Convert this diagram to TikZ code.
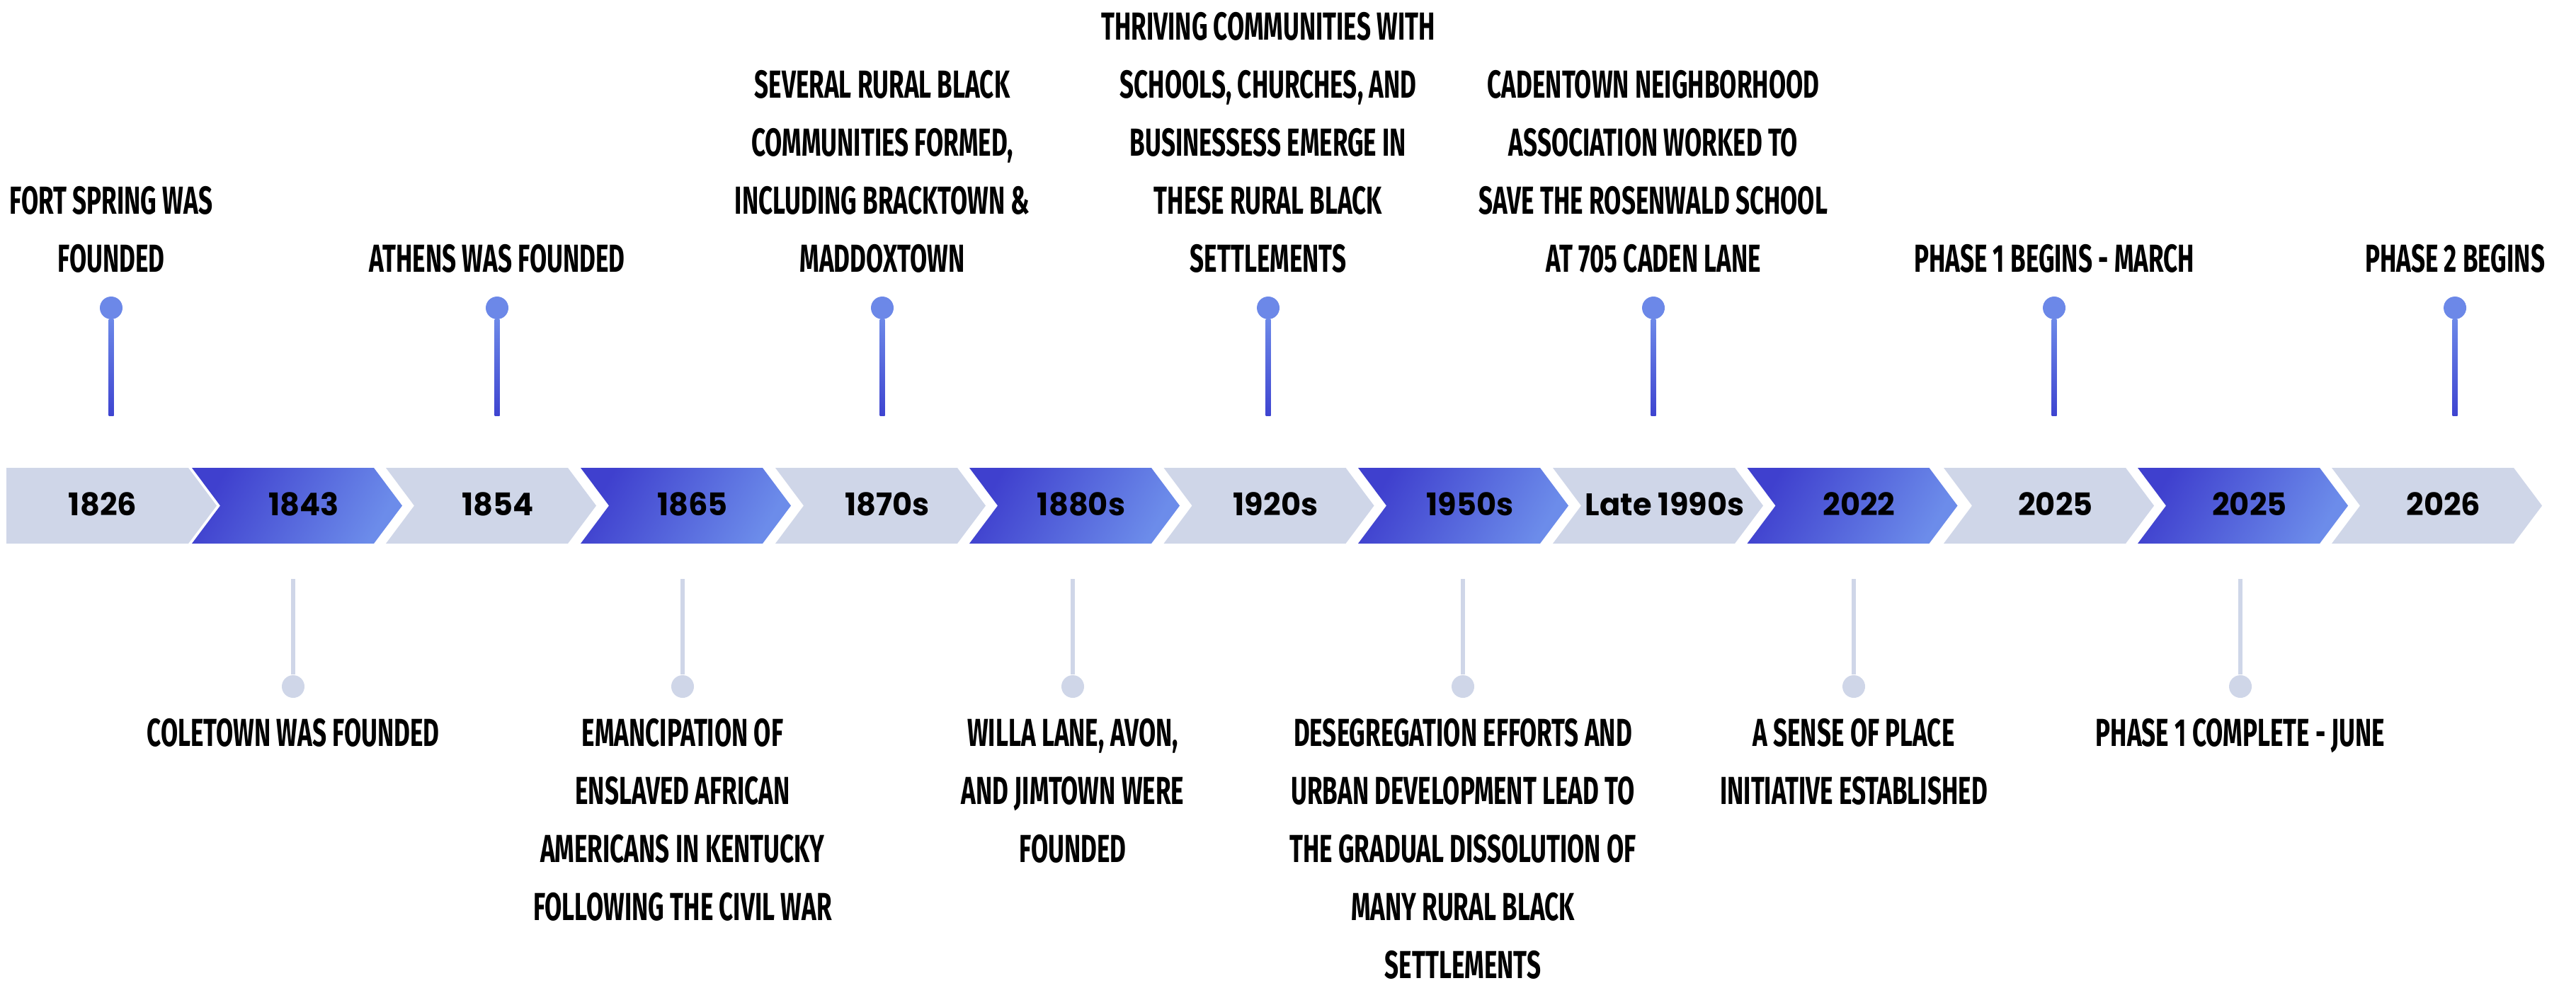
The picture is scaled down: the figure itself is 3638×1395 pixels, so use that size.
\documentclass[tikz,border=0pt]{standalone}
\usepackage{fontspec}
\usetikzlibrary{calc}
\newfontfamily\lblfont{Fira Sans}[FakeStretch=0.635]
\newfontfamily\yrfont{Poppins}[FakeStretch=0.98]
\definecolor{lite}{RGB}{207,214,232}
\definecolor{darkA}{RGB}{63,64,206}
\definecolor{darkB}{RGB}{108,140,234}
\definecolor{stemtop}{RGB}{108,136,232}
\definecolor{stembot}{RGB}{62,68,208}
\begin{document}
\begin{tikzpicture}[x=0.25pt,y=-0.25pt,
  yr/.style={font=\yrfont\bfseries\fontsize{11}{13}\selectfont, inner sep=0pt, text=black},
  lbl/.style={font=\lblfont\bfseries\fontsize{13.8}{20.5}\selectfont, align=center, inner sep=0pt, text=black},
  topdot/.style={circle, inner sep=0pt, minimum size=8pt, fill=stemtop},
  botdot/.style={circle, inner sep=0pt, minimum size=8pt, fill=lite},
  darkchev/.style={left color=darkA, right color=darkB, shading angle=60},
]
\useasboundingbox (0,0) rectangle (3638,1395);
\fill[white] (0,0) rectangle (3638,1395);

% chevrons
\fill[lite] (9,661) -- (266,661) -- (306,714.5) -- (266,768) -- (9,768) -- cycle;
\foreach \L in {545,1095,1643.5,2193,2745,3293}
  \fill[lite] (\L,661) -- ++(257,0) -- ++(40,53.5) -- ++(-40,53.5) -- ++(-257,0) -- ++(40,-53.5) -- cycle;
\foreach \L in {271,820,1369,1918,2467.5,3019}
  \shade[darkchev] (\L,661) -- ++(257,0) -- ++(40,53.5) -- ++(-40,53.5) -- ++(-257,0) -- ++(40,-53.5) -- cycle;

% year labels
\foreach \n/\x/\t in {0/145/1826, 1/429/1843, 2/703/1854, 3/978/1865, 4/1253/1870s, 5/1527/1880s, 6/1801.5/1920s, 7/2076/1950s, 8/2351/Late 1990s, 9/2625.5/2022, 10/2903/2025, 11/3177/2025, 12/3451/2026}
  \node[yr] (yr\n) at (\x,712) {\t};

% top stems
\foreach \n/\x in {0/157,2/702,4/1246,6/1791,8/2335,10/2901,12/3467} {
  \node[topdot] (td\n) at (\x,435) {};
  \coordinate (ts\n) at (\x,587);
  \shade[top color=stemtop, bottom color=stembot] ($(td\n.south)+(-3.5,0)$) rectangle ($(ts\n)+(3.5,0)$);
}

% bottom stems
\foreach \n/\x in {1/414,3/964,5/1515,7/2066,9/2618,11/3164} {
  \node[botdot] (bd\n) at (\x,970) {};
  \coordinate (bs\n) at (\x,818);
  \fill[lite] ($(bs\n)+(-3,0)$) rectangle ($(bd\n.north)+(3,0)$);
}

% top labels
\node[lbl, anchor=south] (tl0) at (157,386) {FORT SPRING WAS\\FOUNDED};
\node[lbl, anchor=south] (tl2) at (702,386) {ATHENS WAS FOUNDED};
\node[lbl, anchor=south] (tl4) at (1246,386) {SEVERAL RURAL BLACK\\COMMUNITIES FORMED,\\INCLUDING BRACKTOWN \&\\MADDOXTOWN};
\node[lbl, anchor=south] (tl6) at (1791,386) {THRIVING COMMUNITIES WITH\\SCHOOLS, CHURCHES, AND\\BUSINESSESS EMERGE IN\\THESE RURAL BLACK\\SETTLEMENTS};
\node[lbl, anchor=south] (tl8) at (2335,386) {CADENTOWN NEIGHBORHOOD\\ASSOCIATION WORKED TO\\SAVE THE ROSENWALD SCHOOL\\AT 705 CADEN LANE};
\node[lbl, anchor=south] (tl10) at (2901,386) {PHASE 1 BEGINS - MARCH};
\node[lbl, anchor=south] (tl12) at (3467,386) {PHASE 2 BEGINS};

% bottom labels
\node[lbl, anchor=north] (bl1) at (414,1014) {COLETOWN WAS FOUNDED};
\node[lbl, anchor=north] (bl3) at (964,1014) {EMANCIPATION OF\\ENSLAVED AFRICAN\\AMERICANS IN KENTUCKY\\FOLLOWING THE CIVIL WAR};
\node[lbl, anchor=north] (bl5) at (1515,1014) {WILLA LANE, AVON,\\AND JIMTOWN WERE\\FOUNDED};
\node[lbl, anchor=north] (bl7) at (2066,1014) {DESEGREGATION EFFORTS AND\\URBAN DEVELOPMENT LEAD TO\\THE GRADUAL DISSOLUTION OF\\MANY RURAL BLACK\\SETTLEMENTS};
\node[lbl, anchor=north] (bl9) at (2618,1014) {A SENSE OF PLACE\\INITIATIVE ESTABLISHED};
\node[lbl, anchor=north] (bl11) at (3164,1014) {PHASE 1 COMPLETE - JUNE};
\end{tikzpicture}
\end{document}
